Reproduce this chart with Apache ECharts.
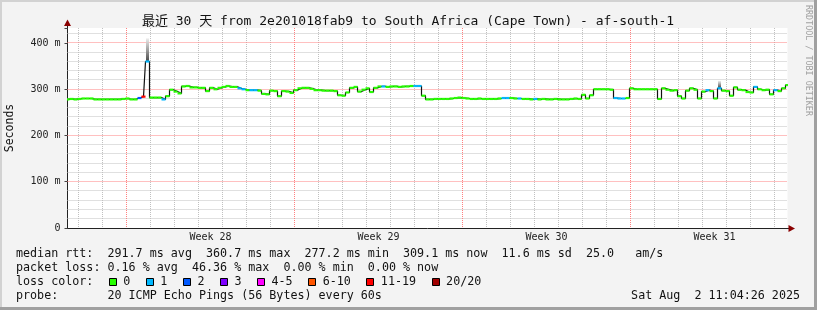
<!DOCTYPE html>
<html><head><meta charset="utf-8">
<script src="https://cdn.jsdelivr.net/npm/echarts@6/dist/echarts.min.js"></script>
<style>html,body{margin:0;padding:0;background:#f3f3f3;}#c{width:817px;height:310px;}</style>
</head><body><div id="c"></div>
<script>
// ---------- data ----------
const titleText = '最近 30 天 from 2e201018fab9 to South Africa (Cape Town) - af-south-1';
const yAxisName = 'Seconds';
const sideText = 'RRDTOOL / TOBI OETIKER';
const sampleStepHours = 4;          // one sample every 4 hours, 30 days = 720 h
const spanHours = 720;
// median RTT (ms), one value per sample
const medianRtt = [
278,279,278,279,280,280,280,278,278,278,278,278,278,278,279,280,278,278,281,284,
360,282,282,282,278,285,299,295,291,306,307,304,304,303,303,296,303,300,303,305,
307,305,305,302,300,298,298,298,297,290,289,297,296,285,296,295,292,298,302,303,
303,301,298,298,297,297,297,296,287,286,293,303,305,295,299,302,294,303,306,306,
305,306,306,305,306,306,307,307,307,286,278,278,279,279,279,279,280,281,282,281,
280,279,279,280,279,279,279,279,280,281,281,281,280,280,279,279,278,279,278,279,
278,278,279,278,278,278,279,280,279,288,280,287,300,300,300,300,299,281,280,280,
281,302,300,300,300,300,300,300,279,302,299,297,298,285,280,297,302,299,280,295,
298,296,280,302,297,296,286,304,299,298,294,293,305,300,298,299,289,298,296,302,
309
];
// samples with packet loss: sample index and loss class
const lossSampleIdx   = [18, 19, 20, 24, 43, 44, 46, 47, 79, 87, 88, 109, 110, 113, 117, 137, 138, 139, 160, 163, 172, 177];
const lossSampleClass = [ 2,  6,  1,  1,  1,  1,  1,  1,  1,  1,  1,   1,   1,   1,   1,   1,   1,   1,   1,   1,   1,   1];
// smoke (ping spread) visible above the median
const smokeHours = [80, 652];
const smokeLow   = [360, 303];
const smokeHigh  = [410, 318];
// axis labels
const weekNames = ['Week 28', 'Week 29', 'Week 30', 'Week 31'];
const weekLabelHours = [143, 311, 479, 647];
const weekLineHours = [59, 227, 395, 563];
const firstDayLineHour = 11;
const yMax = 432.4;
const lossLabels = ['0', '1', '2', '3', '4-5', '6-10', '11-19', '20/20'];
const lossColors = ['#26ff00', '#00b8ff', '#0059ff', '#7e00ff', '#ff00ff', '#ff5500', '#ff0000', '#a10000'];
const legendLine1 = 'median rtt:  291.7 ms avg  360.7 ms max  277.2 ms min  309.1 ms now  11.6 ms sd  25.0   am/s';
const legendLine2 = 'packet loss: 0.16 % avg  46.36 % max  0.00 % min  0.00 % now';
const legendLine3 = 'loss color:';
const legendLine4 = 'probe:       20 ICMP Echo Pings (56 Bytes) every 60s';
const stampText = 'Sat Aug  2 11:04:26 2025';

// ---------- build ----------
const MONO = "'DejaVu Sans Mono', 'Noto Sans CJK SC', monospace";
const chart = echarts.init(document.getElementById('c'), null, {renderer: 'canvas', width: 817, height: 310});

const sampleHours = medianRtt.map((_, i) => i * sampleStepHours);
const lossArr = medianRtt.map(() => 0);
lossSampleIdx.forEach((idx, k) => { lossArr[idx] = lossSampleClass[k]; });
const lineData = medianRtt.map((v, i) => [sampleHours[i], v]);
const segData = medianRtt.map((v, i) => [sampleHours[i], v, lossArr[i]]);
const smokeData = smokeHours.map((h, i) => [h, smokeLow[i], smokeHigh[i]]);
const weekData = weekLabelHours.map((h, i) => [h, 0, i]);

// grid line positions: [value, isMajor]
const vGrid = [], hGrid = [];
for (let h = firstDayLineHour; h < spanHours; h += 24) {
  vGrid.push([h, weekLineHours.indexOf(h) >= 0 ? 1 : 0]);
}
for (let v = 20; v < yMax; v += 20) hGrid.push([v, v % 100 === 0 ? 1 : 0]);
const GRID_COLORS = ['#c0c0c0', '#ff8080'];

// legend graphics
const graphics = [];
const LX = 16, LFS = 11.7, CW = 7.05;
const txt = (x, y, s, extra) => Object.assign({type: 'text', x: x, y: y, silent: true,
  style: Object.assign({text: s, font: LFS + 'px ' + MONO, fill: '#111', textVerticalAlign: 'middle', verticalAlign: 'middle'}, extra || {})});
graphics.push(txt(LX, 254, legendLine1));
graphics.push(txt(LX, 268, legendLine2));
graphics.push(txt(LX, 282, legendLine3));
graphics.push(txt(LX, 296, legendLine4));
graphics.push(txt(800, 296, stampText, {align: 'right', textAlign: 'right'}));
let bx = 108.7;
lossLabels.forEach((lab, i) => {
  graphics.push({type: 'rect', silent: true, shape: {x: Math.round(bx) + 0.5, y: 278.5, width: 7, height: 7},
    style: {fill: lossColors[i], stroke: '#000', lineWidth: 1}});
  graphics.push(txt(bx + 14.6, 282, lab));
  bx += 30 + lab.length * CW;
});
// title, axis name, side text
graphics.push({type: 'text', x: 408, y: 21.5, silent: true,
  style: {text: titleText, font: '13px ' + MONO, fill: '#111', align: 'center', textAlign: 'center', verticalAlign: 'middle', textVerticalAlign: 'middle'}});
graphics.push({type: 'text', x: 10, y: 128, rotation: Math.PI / 2, silent: true,
  style: {text: yAxisName, font: '11.5px ' + MONO, fill: '#111', align: 'center', textAlign: 'center', verticalAlign: 'middle', textVerticalAlign: 'middle'}});
graphics.push({type: 'text', x: 808, y: 5, rotation: -Math.PI / 2, silent: true,
  style: {text: sideText, font: '8.4px ' + MONO, fill: '#a0a0a0', align: 'left', textAlign: 'left', verticalAlign: 'middle', textVerticalAlign: 'middle'}});
// axis arrows & extensions
graphics.push({type: 'line', silent: true, shape: {x1: 67.5, y1: 28, x2: 67.5, y2: 23}, style: {stroke: '#222', lineWidth: 1}});
graphics.push({type: 'polygon', silent: true, shape: {points: [[64, 26], [71, 26], [67.5, 19.5]]}, style: {fill: '#8a0000'}});
graphics.push({type: 'line', silent: true, shape: {x1: 787, y1: 228.5, x2: 790, y2: 228.5}, style: {stroke: '#222', lineWidth: 1}});
graphics.push({type: 'polygon', silent: true, shape: {points: [[788.5, 225], [788.5, 232], [795, 228.5]]}, style: {fill: '#8a0000'}});
// frame
graphics.push({type: 'rect', silent: true, z: -10, shape: {x: 0, y: 0, width: 817, height: 2}, style: {fill: '#d2d2d2'}});
graphics.push({type: 'rect', silent: true, z: -10, shape: {x: 0, y: 0, width: 2, height: 310}, style: {fill: '#d2d2d2'}});
graphics.push({type: 'rect', silent: true, z: -10, shape: {x: 0, y: 307, width: 817, height: 3}, style: {fill: '#a0a0a0'}});
graphics.push({type: 'rect', silent: true, z: -10, shape: {x: 814, y: 0, width: 3, height: 310}, style: {fill: '#a0a0a0'}});

const option = {
  animation: false,
  backgroundColor: '#f3f3f3',
  grid: {left: 67.5, right: 29.5, top: 28, bottom: 82, show: true, backgroundColor: '#ffffff', borderWidth: 0},
  xAxis: {
    type: 'value', min: 0, max: spanHours,
    axisLine: {show: true, lineStyle: {color: '#222', width: 1}},
    axisTick: {show: false}, axisLabel: {show: false}, splitLine: {show: false}
  },
  yAxis: {
    type: 'value', min: 0, max: yMax, interval: 100,
    axisLine: {show: true, lineStyle: {color: '#222', width: 1}},
    axisTick: {show: true, length: 3, lineStyle: {color: '#444'}},
    axisLabel: {
      margin: 7, fontFamily: MONO, fontSize: 10, color: '#222',
      formatter: v => (v === 0 ? '0' : (v % 100 === 0 ? v + ' m' : ''))
    },
    splitLine: {show: false}
  },
  graphic: graphics,
  series: [
    { // vertical grid lines
      type: 'custom', z: 1, silent: true, clip: false, data: vGrid,
      renderItem: (params, api) => {
        const a = api.coord([api.value(0), 0]), b = api.coord([api.value(0), yMax]);
        const x = Math.floor(a[0]) + 0.5;
        const major = api.value(1);
        return {type: 'line', z2: major ? 2 : 1, shape: {x1: x, y1: b[1], x2: x, y2: a[1]},
          style: {stroke: GRID_COLORS[major], lineWidth: 1, lineDash: [1, 1]}};
      }
    },
    { // horizontal grid lines
      type: 'custom', z: 1, silent: true, clip: false, data: hGrid,
      renderItem: (params, api) => {
        const a = api.coord([0, api.value(0)]), b = api.coord([spanHours, api.value(0)]);
        const y = Math.floor(a[1]) + 0.5;
        const major = api.value(1);
        return {type: 'line', z2: major ? 2 : 1, shape: {x1: a[0], y1: y, x2: b[0], y2: y},
          style: {stroke: GRID_COLORS[major], lineWidth: 1, lineDash: [1, 1]}};
      }
    },
    { // smoke
      type: 'custom', z: 2, silent: true, clip: true, data: smokeData,
      renderItem: (params, api) => {
        const top = api.coord([api.value(0) - 1.5, api.value(2)]);
        const bot = api.coord([api.value(0) + 1.5, api.value(1)]);
        return {type: 'rect', shape: {x: top[0], y: top[1], width: bot[0] - top[0], height: bot[1] - top[1]},
          style: {fill: new echarts.graphic.LinearGradient(0, 0, 0, 1, [
            {offset: 0, color: 'rgba(235,235,235,0.9)'}, {offset: 1, color: 'rgba(70,70,70,1)'}])}};
      }
    },
    { // black median connector
      type: 'line', data: lineData, step: 'middle', symbol: 'none', z: 3, silent: true,
      lineStyle: {color: '#111', width: 1.2}
    },
    { // median coloured by loss
      type: 'custom', z: 4, silent: true, clip: true, data: segData,
      renderItem: (params, api) => {
        const h = api.value(0), v = api.value(1);
        const p1 = api.coord([h - sampleStepHours / 2, v]);
        const p2 = api.coord([h + sampleStepHours / 2, v]);
        return {type: 'line', shape: {x1: p1[0], y1: p1[1], x2: p2[0], y2: p2[1]},
          style: {stroke: lossColors[api.value(2)], lineWidth: 2.2}};
      }
    },
    { // week labels
      type: 'custom', z: 5, silent: true, clip: false, data: weekData,
      renderItem: (params, api) => {
        const p = api.coord([api.value(0), api.value(1)]);
        return {type: 'text', x: p[0], y: p[1] + 9.5,
          style: {text: weekNames[api.value(2)], font: '10px ' + MONO, fill: '#222', align: 'center', textAlign: 'center', verticalAlign: 'middle', textVerticalAlign: 'middle'}};
      }
    }
  ]
};
chart.setOption(option);
</script>
</body></html>
